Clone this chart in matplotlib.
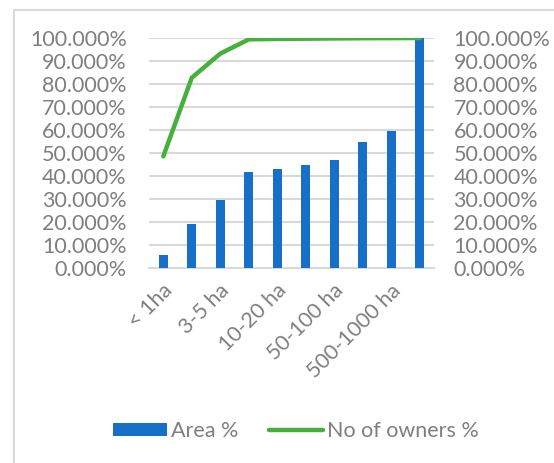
import matplotlib.pyplot as plt
from matplotlib.patches import Rectangle
from matplotlib.ticker import PercentFormatter
from matplotlib.transforms import ScaledTranslation
import numpy as np

categories = ['< 1ha', '1-3 ha', '3-5 ha', '5-10 ha', '10-20 ha',
              '20-50 ha', '50-100 ha', '100-500 ha', '500-1000 ha', '> 1000 ha']
area_pct = [5.7, 19.2, 29.6, 41.8, 43.0, 44.8, 47.0, 54.8, 59.7, 100.0]
owners_pct = [48.5, 82.7, 93.2, 99.4, 99.6, 99.7, 99.8, 99.9, 99.95, 100.0]

blue = '#1670C8'
green = '#46B03C'
grey = '#7F7F7F'

plt.rcParams['font.family'] = ['Lato', 'DejaVu Sans']

W, H = 554, 463
fig = plt.figure(figsize=(W / 100, H / 100), dpi=100)
ax = fig.add_axes([149 / W, 1 - 268 / H, 285 / W, 230 / H])
ax2 = ax.twinx()

x = np.arange(len(categories))
ax.bar(x, area_pct, width=0.3, color=blue, zorder=3, label='Area %')
ax2.plot(x, owners_pct, color=green, lw=3.2, solid_capstyle='round', zorder=4,
         label='No of owners %')

for a in (ax, ax2):
    a.set_ylim(0, 100)
    a.set_yticks(np.arange(0, 101, 10))
    a.yaxis.set_major_formatter(PercentFormatter(decimals=3))
    a.tick_params(axis='y', length=0, labelsize=15.5, labelcolor=grey)
    for s in a.spines.values():
        s.set_visible(False)
ax.tick_params(axis='y', pad=16)
ax2.tick_params(axis='y', pad=14)
ax.set_xlim(-0.5, len(categories) - 0.5)
ax.grid(axis='y', color='#D9D9D9', lw=1.5, zorder=0)
ax.spines['bottom'].set_visible(True)
ax.spines['bottom'].set_color('#D9D9D9')
ax.spines['bottom'].set_linewidth(1.5)

ax.set_xticks(x[::2])
ax.set_xticklabels(categories[::2], rotation=45, ha='right', va='center',
                   rotation_mode='anchor')
ax.tick_params(axis='x', length=0, labelsize=15.5, labelcolor=grey, pad=14)
shift = ScaledTranslation(6 / 100, 0, fig.dpi_scale_trans)
for lbl in ax.get_xticklabels():
    lbl.set_transform(lbl.get_transform() + shift)

h1, l1 = ax.get_legend_handles_labels()
h2, l2 = ax2.get_legend_handles_labels()
fig.legend(h1 + h2, l1 + l2, loc='center', bbox_to_anchor=(296 / W, 1 - 431 / H),
           ncol=2, frameon=False, fontsize=15.5, labelcolor=grey,
           handlelength=2.5, handleheight=0.6, handletextpad=0.2,
           columnspacing=1.4)

fig.patches.append(Rectangle((13.5 / W, -0.1), 1.2, 1 - 9.5 / H + 0.1,
                             transform=fig.transFigure, fill=False,
                             edgecolor='#D9D9D9', lw=1.5))

fig.savefig('out.png', dpi=100, facecolor='white')
